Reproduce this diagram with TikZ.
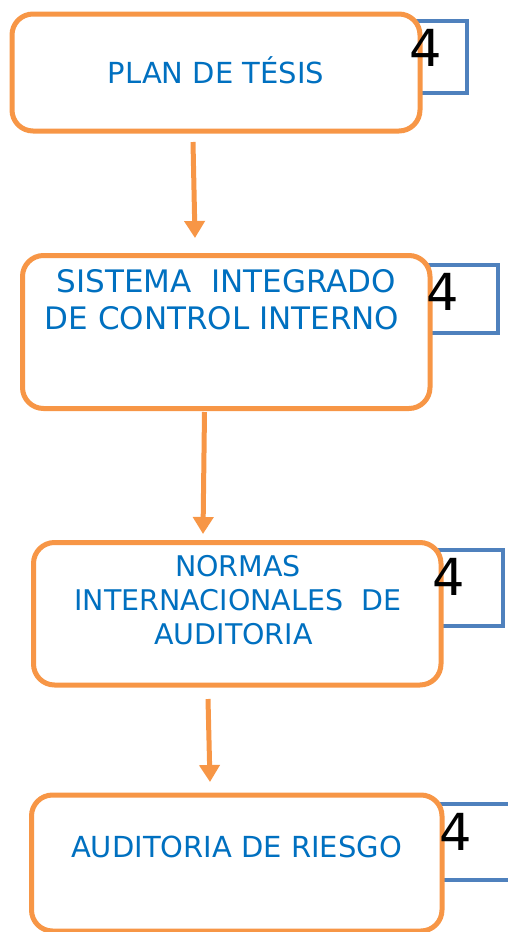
\documentclass[tikz,border=0pt]{standalone}
\usepackage{fontspec}
\setmainfont{DejaVu Sans}
\usetikzlibrary{arrows.meta}
\definecolor{boxorange}{HTML}{F79646}
\definecolor{tabblue}{HTML}{4F81BD}
\definecolor{txtblue}{HTML}{0070C0}
\tikzset{
  flowbox/.style={draw=boxorange, line width=5pt, fill=white, rounded corners=21pt,
    inner sep=0pt, outer sep=0pt, rectangle},
  tabbox/.style={draw=tabblue, line width=4pt, rectangle, inner sep=0pt, outer sep=0pt},
  lbl/.style={text=txtblue, anchor=base, inner sep=0pt},
  num/.style={text=black, anchor=base, inner sep=0pt, font=\fontsize{51}{60}\selectfont},
  flowarrow/.style={draw=boxorange, line width=5pt, -{Triangle[width=20pt,length=17pt]}}
}
\begin{document}
\begin{tikzpicture}[x=1pt,y=-1pt]
\useasboundingbox (0,0) rectangle (508,932);
% blue tabs behind the boxes
\node[tabbox, minimum width=66.5pt, minimum height=71.5pt] (t1) at (433.25,56.75) {};
\node[tabbox, minimum width=87.5pt, minimum height=67.5pt] (t2) at (453.75,298.75) {};
\node[tabbox, minimum width=82.5pt, minimum height=76pt] (t3) at (461.25,587.5) {};
\node[tabbox, minimum width=95pt, minimum height=75.5pt] (t4) at (467.5,841.75) {};
% orange boxes
\node[flowbox, minimum width=408pt, minimum height=117pt] (b1) at (216,72.5) {};
\node[flowbox, minimum width=407.5pt, minimum height=153pt] (b2) at (226.25,332) {};
\node[flowbox, minimum width=407.5pt, minimum height=142.5pt] (b3) at (237.25,613.75) {};
\node[flowbox, minimum width=410.5pt, minimum height=136pt] (b4) at (236.75,863) {};
% texts
\node[lbl, font=\fontsize{29}{35}\selectfont] (l1) at (216,83) {PLAN DE TÉSIS};
\node[lbl, font=\fontsize{31}{37}\selectfont] (l2a) at (226.5,292) {SISTEMA~ INTEGRADO};
\node[lbl, font=\fontsize{31}{37}\selectfont] (l2b) at (222,329.5) {DE CONTROL INTERNO};
\node[lbl, font=\fontsize{28.5}{34}\selectfont] (l3a) at (238,576) {NORMAS};
\node[lbl, font=\fontsize{28.5}{34}\selectfont] (l3b) at (238,610) {INTERNACIONALES~ DE};
\node[lbl, font=\fontsize{28.5}{34}\selectfont] (l3c) at (233.5,644) {AUDITORIA};
\node[lbl, font=\fontsize{29}{35}\selectfont] (l4) at (236.5,857) {AUDITORIA DE RIESGO};
% numbers
\node[num] (n1) at (426,66) {4};
\node[num] (n2) at (442.5,310) {4};
\node[num] (n3) at (448.5,595) {4};
\node[num] (n4) at (455.5,850) {4};
% arrows
\draw[flowarrow] ([xshift=-23pt,yshift=-11pt]b1.south) -- ([xshift=-31.25pt,yshift=17.5pt]b2.north);
\draw[flowarrow] ([xshift=-21.75pt,yshift=-3.5pt]b2.south) -- ([xshift=-34.25pt,yshift=8.5pt]b3.north);
\draw[flowarrow] ([xshift=-29.25pt,yshift=-14pt]b3.south) -- ([xshift=-26.75pt,yshift=13pt]b4.north);
\end{tikzpicture}
\end{document}
